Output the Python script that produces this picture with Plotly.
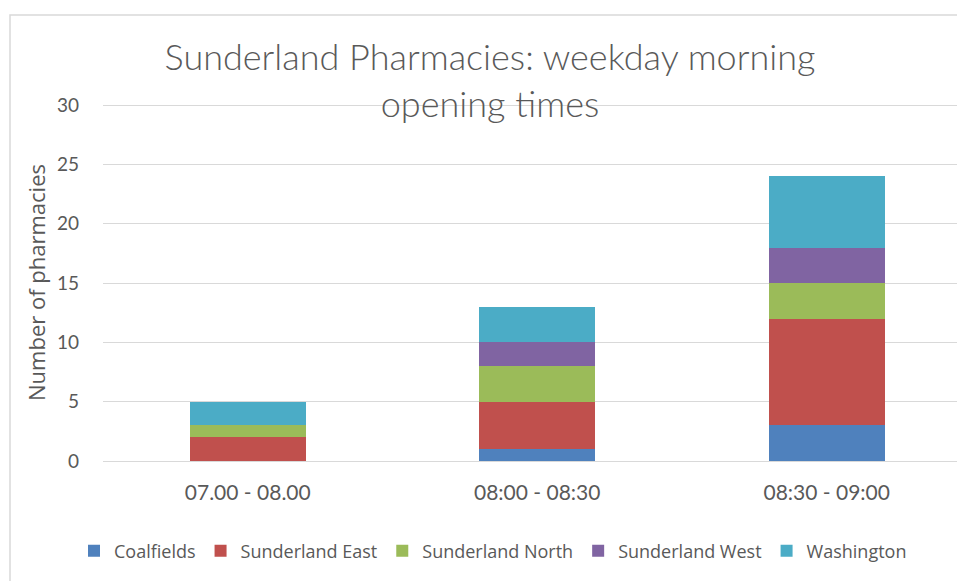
import plotly.graph_objects as go

categories = ["07.00 - 08.00", "08:00 - 08:30", "08:30 - 09:00"]
coalfields = [0, 1, 3]
sunderland_east = [2, 4, 9]
sunderland_north = [1, 3, 3]
sunderland_west = [0, 2, 3]
washington = [2, 3, 6]

series = [
    ("Coalfields", coalfields, "#4F81BD"),
    ("Sunderland East", sunderland_east, "#C0504D"),
    ("Sunderland North", sunderland_north, "#9BBB59"),
    ("Sunderland West", sunderland_west, "#8064A2"),
    ("Washington", washington, "#4BACC6"),
]

W, H = 957, 581
PL, PT, PB = 103, 104, 461
PR = W

fig = go.Figure()
for name, vals, col in series:
    fig.add_trace(go.Bar(x=categories, y=vals, name=name,
                         marker=dict(color=col, line=dict(width=0))))

fig.update_layout(
    width=W, height=H,
    barmode="stack", bargap=0.6,
    paper_bgcolor="white", plot_bgcolor="white",
    margin=dict(l=PL, r=0, t=PT, b=H - PB, autoexpand=False),
    title=dict(text="Sunderland Pharmacies: weekday morning<br>opening times",
               x=490 / W, xanchor="center", xref="container",
               y=1 - 70 / H, yanchor="top", yref="container",
               font=dict(family="Lato", size=36, weight=300, color="#595959")),
    font=dict(family="Lato", color="#595959"),
    showlegend=True,
    legend=dict(orientation="h", xref="container", x=493 / W, xanchor="center",
                yref="container", y=1 - 551 / H, yanchor="middle",
                font=dict(family="Open Sans", size=18, color="#595959"),
                traceorder="normal", itemwidth=30, tracegroupgap=0),
)
fig.update_xaxes(range=[-0.5, 2.45], showgrid=False, showline=False, zeroline=False,
                 tickfont=dict(family="Lato", size=21, color="#595959"),
                 ticks="", ticklabelstandoff=17, automargin=False)
fig.update_yaxes(range=[0, 30.1], tickvals=[0, 5, 10, 15, 20, 25, 30],
                 showgrid=True, gridcolor="#D9D9D9", gridwidth=1,
                 zeroline=True, zerolinecolor="#D9D9D9", zerolinewidth=1,
                 showline=False, ticks="",
                 tickfont=dict(family="Lato", size=19, color="#595959"),
                 ticklabelstandoff=23, automargin=False,
                 title=dict(text="Number of pharmacies", standoff=5,
                            font=dict(family="Open Sans", size=22, color="#595959")))

# outer chart border
fig.add_shape(type="rect", xref="paper", yref="paper",
              x0=(10 - 103) / (PR - PL), x1=1.2,
              y0=-0.5, y1=1 + (104 - 15) / (PB - PT),
              line=dict(color="#D9D9D9", width=1.5), fillcolor="rgba(0,0,0,0)", layer="below")

fig.write_html("out.html", config={"displayModeBar": False},
               post_script="document.body.style.margin='0';document.body.style.overflow='hidden';")
